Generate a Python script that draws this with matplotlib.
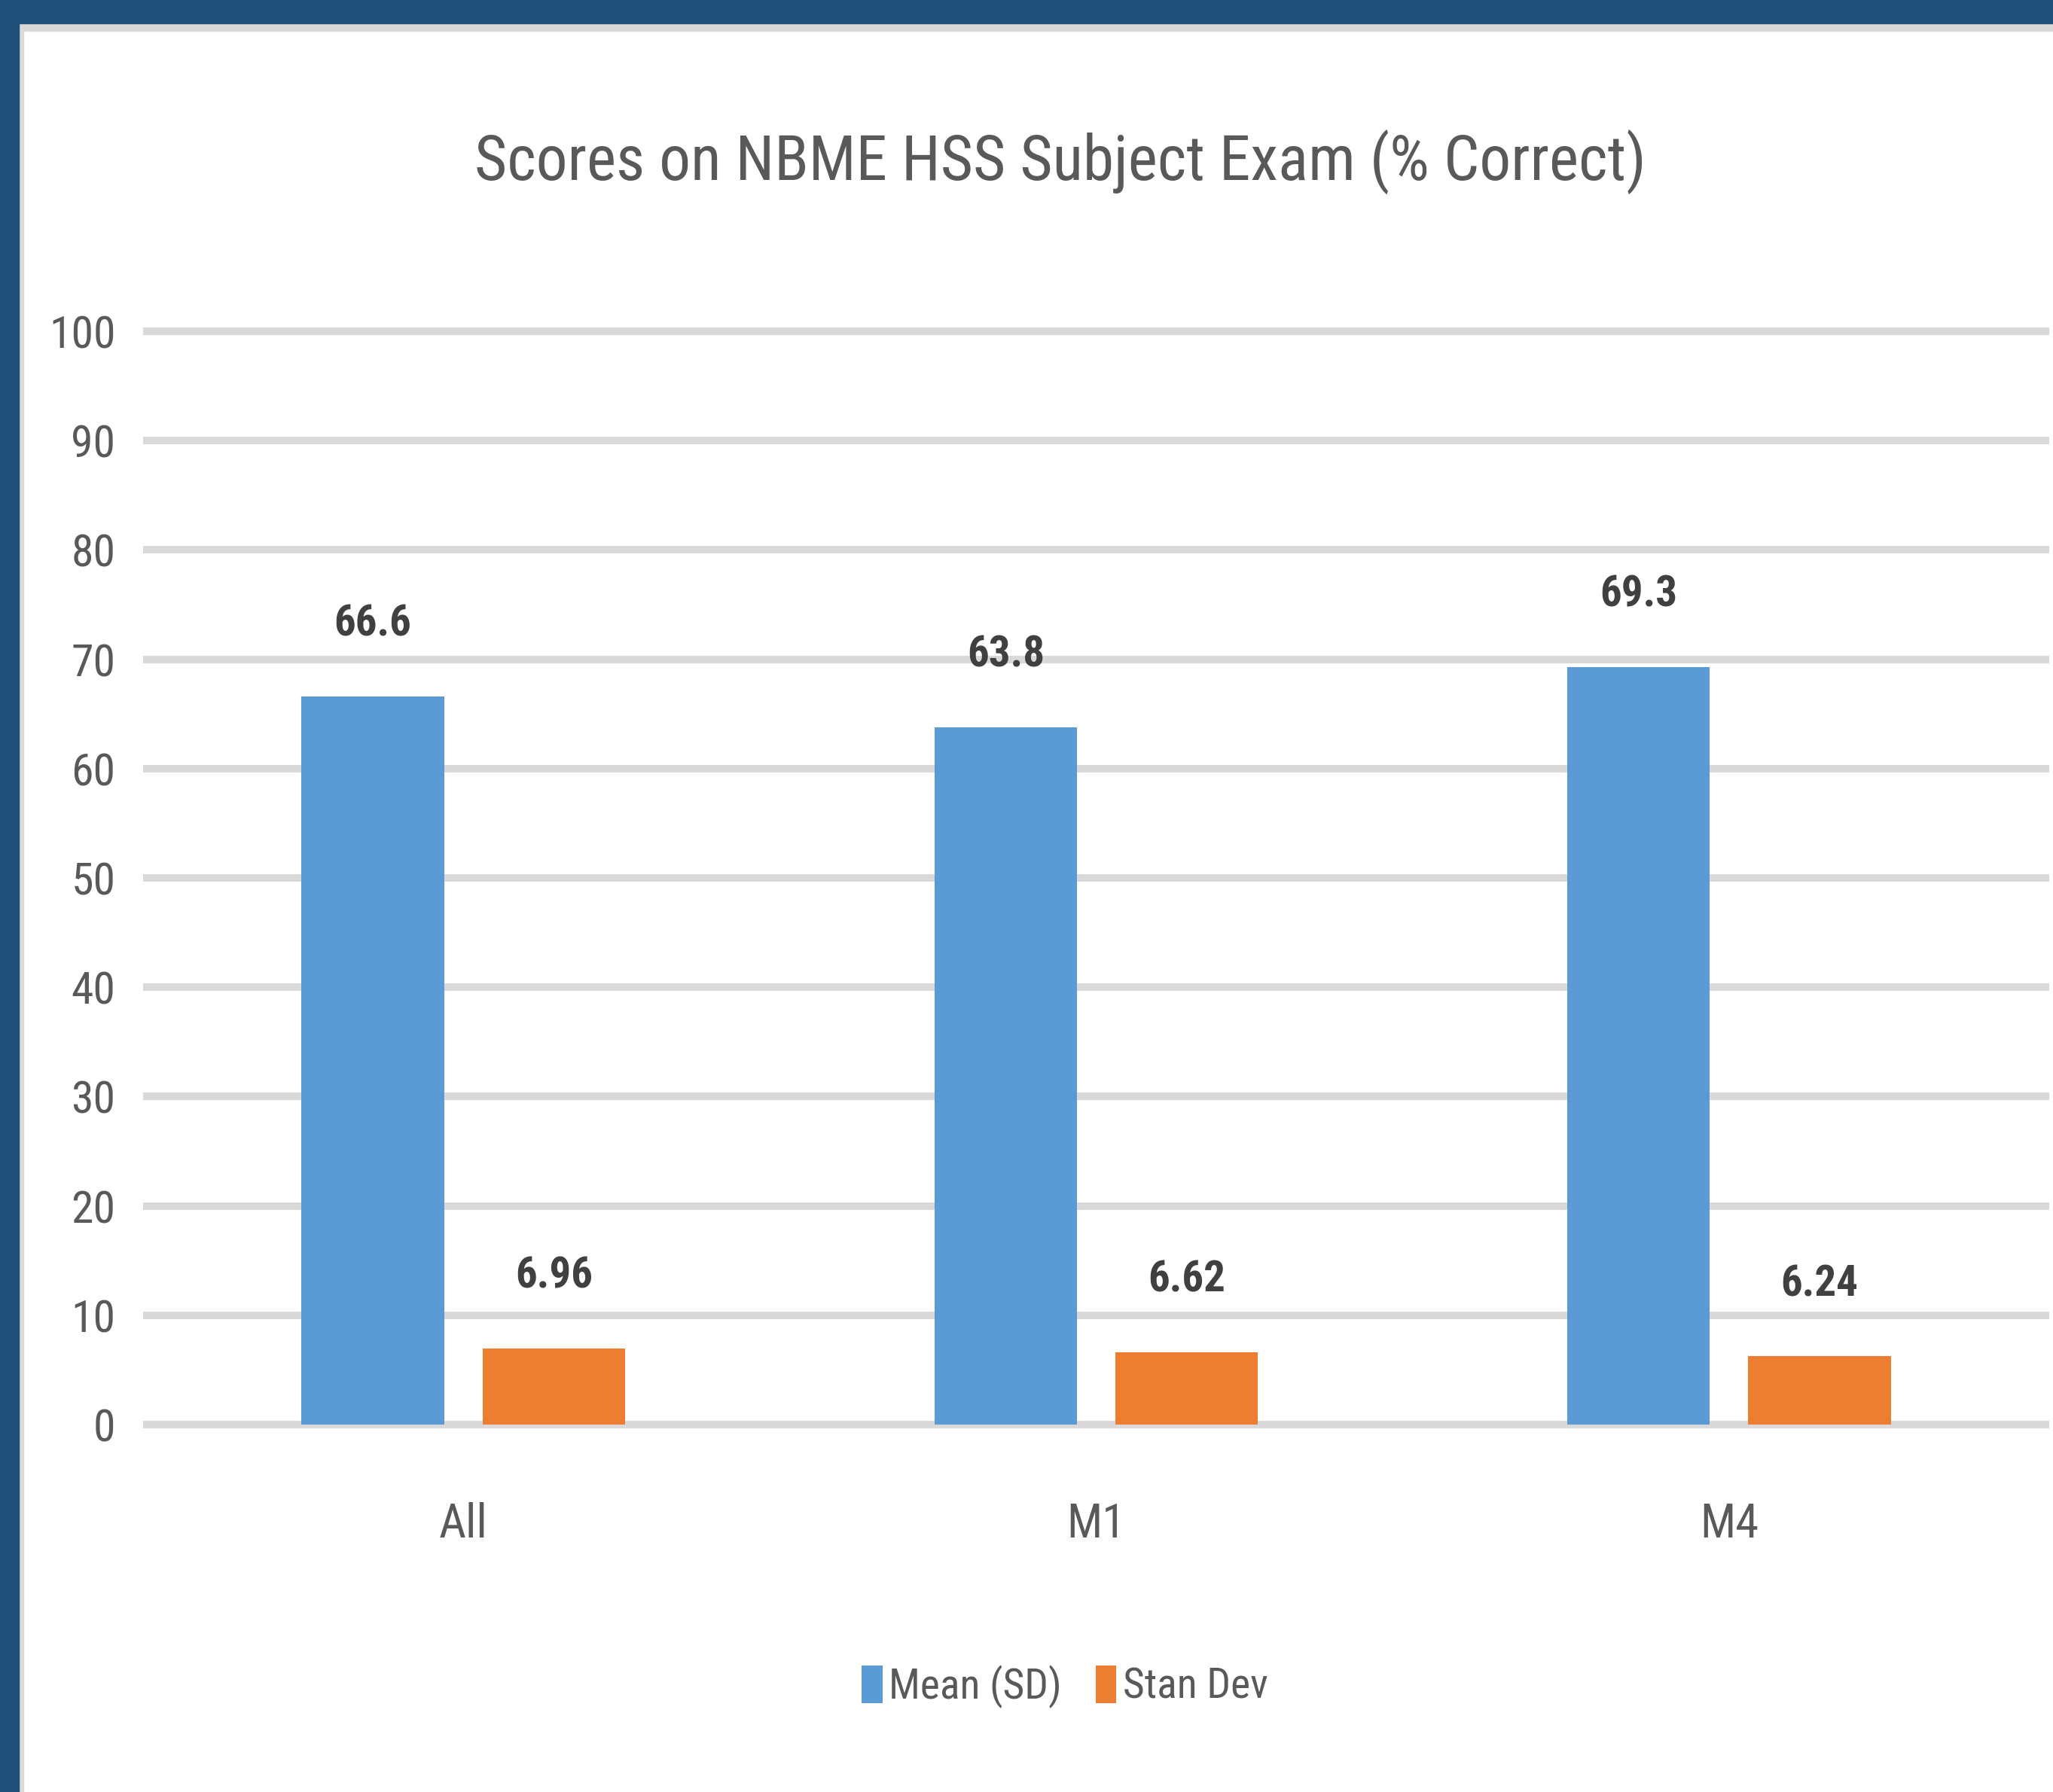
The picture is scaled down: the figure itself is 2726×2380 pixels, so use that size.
import matplotlib
matplotlib.use("Agg")
import matplotlib.pyplot as plt
from matplotlib import font_manager
from matplotlib.patches import Rectangle, Patch
import numpy as np

categories = ["All", "M1", "M4"]
mean_values = [66.6, 63.8, 69.3]
sd_values = [6.96, 6.62, 6.24]
mean_labels = ["66.6", "63.8", "69.3"]
sd_labels = ["6.96", "6.62", "6.24"]
series_names = ["Mean (SD)", "Stan Dev"]
y_ticks = [0, 10, 20, 30, 40, 50, 60, 70, 80, 90, 100]
title = "Scores on NBME HSS Subject Exam (% Correct)"

available = {f.name for f in font_manager.fontManager.ttflist}
stretch = "normal"
font = "DejaVu Sans"
for cand in ["Roboto Condensed", "Liberation Sans Narrow", "Open Sans Condensed"]:
    if cand in available:
        font = cand
        break
else:
    stretch = "condensed"

plt.rcParams["font.family"] = [font, "DejaVu Sans"]
plt.rcParams["font.stretch"] = stretch

W, H = 2726, 2380
dpi = 100
fig = plt.figure(figsize=(W / dpi, H / dpi), dpi=dpi)
fig.patch.set_facecolor("white")

blue = "#5B9BD5"
orange = "#ED7D31"
dark = "#1F4E79"
lgray = "#D9D9D9"
txt = "#595959"

# frame borders
fig.patches.append(Rectangle((0, 1 - 31 / H), 1, 31 / H, transform=fig.transFigure, color=dark, zorder=5))
fig.patches.append(Rectangle((0, 0), 25 / W, 1, transform=fig.transFigure, color=dark, zorder=5))
fig.patches.append(Rectangle((25 / W, 1 - 41 / H), 1, 10 / H, transform=fig.transFigure, color=lgray, zorder=4))
fig.patches.append(Rectangle((25 / W, 0), 6 / W, 1 - 31 / H, transform=fig.transFigure, color=lgray, zorder=4))

ax = fig.add_axes([195 / W, 488 / H, (2716 - 195) / W, 1452 / H])
ax.set_facecolor("none")
x = np.arange(len(categories))
bw = 0.225
off = 0.143
b1 = ax.bar(x - off, mean_values, bw, color=blue, zorder=3, label=series_names[0])
b2 = ax.bar(x + off, sd_values, bw, color=orange, zorder=3, label=series_names[1])

ax.set_xlim(-0.5, len(categories) - 0.5)
ax.set_ylim(0, 100)
for t in y_ticks:
    ax.axhline(t, color=lgray, lw=7.2, zorder=1, clip_on=False)

for s in ax.spines.values():
    s.set_visible(False)
ax.set_yticks(y_ticks)
ax.set_yticklabels([str(t) for t in y_ticks], fontsize=43, color=txt)
ax.tick_params(axis="y", length=0, pad=30)
ax.set_xticks(x)
ax.set_xticklabels(categories, fontsize=45, color=txt)
ax.tick_params(axis="x", length=0, pad=74)

ax.bar_label(b1, labels=mean_labels, padding=49, fontsize=41, fontweight="bold", color="#404040")
ax.bar_label(b2, labels=sd_labels, padding=49, fontsize=41, fontweight="bold", color="#404040")

fig.text(1408 / W, 1 - 215 / H, title, ha="center", va="center", fontsize=60, color=txt)

handles = [Patch(facecolor=blue, edgecolor="none"), Patch(facecolor=orange, edgecolor="none")]
fig.legend(handles=handles, labels=series_names, loc="center", bbox_to_anchor=(1414 / W, 1 - 2240 / H),
           ncol=2, frameon=False, fontsize=40, handlelength=0.5, handleheight=1.0,
           handletextpad=0.15, columnspacing=0.8, labelcolor=txt)

fig.savefig("out.png", dpi=dpi, facecolor="white")
